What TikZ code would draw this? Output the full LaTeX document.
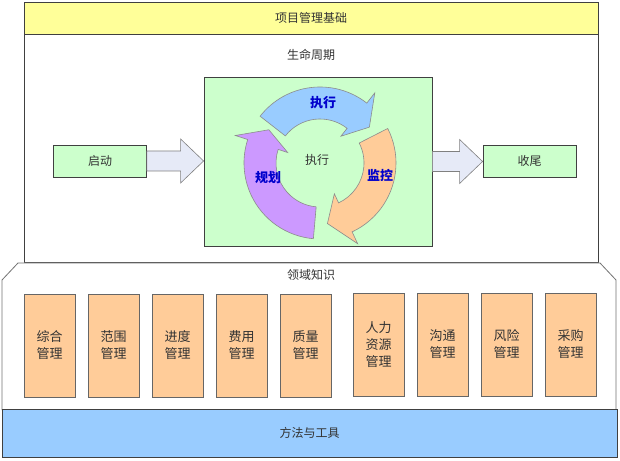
\documentclass[tikz,border=0pt]{standalone}
\usepackage{fontspec}
\setmainfont{Noto Sans CJK SC}
\usetikzlibrary{positioning,calc}
\definecolor{bandyellow}{HTML}{FFFF99}
\definecolor{lifegreen}{HTML}{CCFFCC}
\definecolor{areaorange}{HTML}{FFCC99}
\definecolor{toolblue}{HTML}{99CCFF}
\definecolor{arrowgray}{HTML}{E6EAF7}
\definecolor{cycblue}{HTML}{99CCFF}
\definecolor{cycorange}{HTML}{FFCC99}
\definecolor{cycpurple}{HTML}{CC99FF}
\definecolor{labelblue}{HTML}{0000CC}
% block arrow between two phase nodes
\newcommand{\blockarrow}[2]{%
  \draw[blockarrow] let \p1=(#1.east), \p2=(#2.west) in
    (\x1,\y1+10pt) -- (\x2-23pt,\y1+10pt) -- (\x2-23pt,\y1+22pt) -- (\x2,\y1)
    -- (\x2-23pt,\y1-22pt) -- (\x2-23pt,\y1-10pt) -- (\x1,\y1-10pt) -- cycle;}
% curved arrow of the cycle: fill, tail angle, head angle, tip angle
\newcommand{\cyclearrow}[4]{%
  \draw[cyc,fill=#1] ($(hub)+(#2:76pt)$) arc[start angle=#2,end angle=#3,radius=76pt]
    -- ($(hub)+(#3:89pt)$) -- ($(hub)+(#4:61pt)$) -- ($(hub)+(#3:34pt)$)
    -- ($(hub)+(#3:44pt)$) arc[start angle=#3,end angle=#2,radius=44pt] -- cycle;}

\begin{document}
\begin{tikzpicture}[x=1pt,y=1pt,font=\fontsize{12}{15}\selectfont,text=black!80,
  frame/.style={draw=black!75,line width=0.8pt,inner sep=0pt},
  phase/.style={frame,fill=lifegreen,minimum width=93pt,minimum height=32pt},
  area/.style={draw=black!60,fill=areaorange,line width=0.8pt,minimum width=51pt,
    minimum height=103pt,align=center,font=\fontsize{13}{17}\selectfont},
  blockarrow/.style={draw=black!50,fill=arrowgray,line width=0.6pt},
  cyc/.style={draw=black!45,line width=0.6pt},
  cyclabel/.style={text=labelblue,font=\fontsize{13}{15}\selectfont\bfseries}]
\useasboundingbox (0,0) rectangle (620,460);

% Foundation band
\node[frame,fill=bandyellow,minimum width=574pt,minimum height=32pt] (base) at (311,442) {项目管理基础};

% Life cycle
\node[frame,fill=white,minimum width=574pt,minimum height=228pt] (life) at (311,312) {};
\node (lifetitle) at (311,405) {生命周期};
\node[frame,fill=lifegreen,minimum width=228pt,minimum height=169pt] (cycle) at (318,298.5) {};
\node[phase] (start) at (100,299) {启动};
\node[phase] (close) at (529.5,299) {收尾};
\blockarrow{start}{cycle}
\blockarrow{cycle}{close}

% Cycle arrows
\coordinate (hub) at (320,297);
\cyclearrow{cycblue}{142}{52}{36}
\cyclearrow{cycorange}{27}{-65}{-83}
\cyclearrow{cycpurple}{-95}{-198}{-213}
\node[cyclabel] (exec) at (323,357) {执行};
\node[cyclabel] (ctrl) at (380,285) {监控};
\node[cyclabel] (plan) at (268,282) {规划};
\node (hubtext) at (317,300) {执行};

% Knowledge areas
\draw[draw=black!55,line width=0.8pt,fill=white]
  (2,50) -- (2,180) -- (18,197) -- (600,197) -- (616,180) -- (616,50);
\node (areatitle) at (311,185) {领域知识};
\foreach \x/\name/\txt in {49.5/zonghe/综合\\管理, 113.5/fanwei/范围\\管理,
    177.5/jindu/进度\\管理, 241.5/feiyong/费用\\管理, 305.5/zhiliang/质量\\管理} {
  \node[area] (\name) at (\x,114.5) {\txt};
}
\foreach \x/\name/\txt in {378.5/renli/人力\\资源\\管理, 442.5/goutong/沟通\\管理,
    506.5/fengxian/风险\\管理, 570.5/caigou/采购\\管理} {
  \node[area] (\name) at (\x,115.5) {\txt};
}

% Methods and tools
\node[frame,fill=toolblue,minimum width=615pt,minimum height=48pt] (tools) at (309.5,27) {方法与工具};
\end{tikzpicture}
\end{document}
